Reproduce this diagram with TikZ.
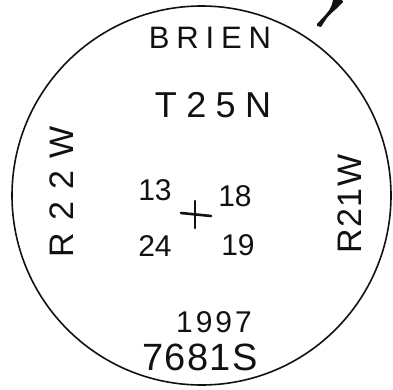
\documentclass[tikz,border=0pt]{standalone}
\usepackage{fontspec}
\setmainfont{Liberation Sans}
\newfontfamily\handfont{Liberation Sans}
\definecolor{cink}{HTML}{111111}
\tikzset{
  every picture/.style={line width=1.5pt},
  hand/.style 2 args={font={\handfont\fontsize{#1}{#1}\selectfont\addfontfeature{LetterSpace=#2}}, text=cink, inner sep=0pt},
  rim/.style={draw=cink, line width=1.6pt},
  cross/.style={draw=cink, line width=2.6pt, line cap=round},
}
\begin{document}
\begin{tikzpicture}[x=1pt, y=-1pt]
  % page in pixel units, y pointing down
  \useasboundingbox (0,0) rectangle (393,390);
  % cap outline and the scribble at the rim
  \draw[rim] (201.5,195.5) circle (189.5);
  \fill[cink] (317,26) -- (321,27) .. controls (328,16) .. (336,9) -- (343,2) -- (342,0) -- (333,0) .. controls (331,9) .. (317,24) -- cycle;
  % names
  \node[hand={31}{22}] (brien) at (210,38) {BRIEN};
  \node[hand={36}{26}] (town) at (213,105) {T25N};
  \node[hand={34}{36}, rotate=90] (rwest) at (62,192) {R22W};
  \node[hand={34}{4}, rotate=90] (reast) at (350,204) {R21W};
  % section corner
  \draw[cross] (181,213) -- (211,216);
  \draw[cross] (195,201) -- (195,228);
  \node[hand={30}{0}] (s13) at (155,190) {13};
  \node[hand={30}{0}] (s18) at (235,196) {18};
  \node[hand={30}{0}] (s24) at (155,246) {24};
  \node[hand={30}{0}] (s19) at (238,245) {19};
  % date and licence
  \node[hand={30}{10}] (year) at (214,322) {1997};
  \node[hand={38}{4}] (lic) at (200,357) {7681S};
\end{tikzpicture}
\end{document}
